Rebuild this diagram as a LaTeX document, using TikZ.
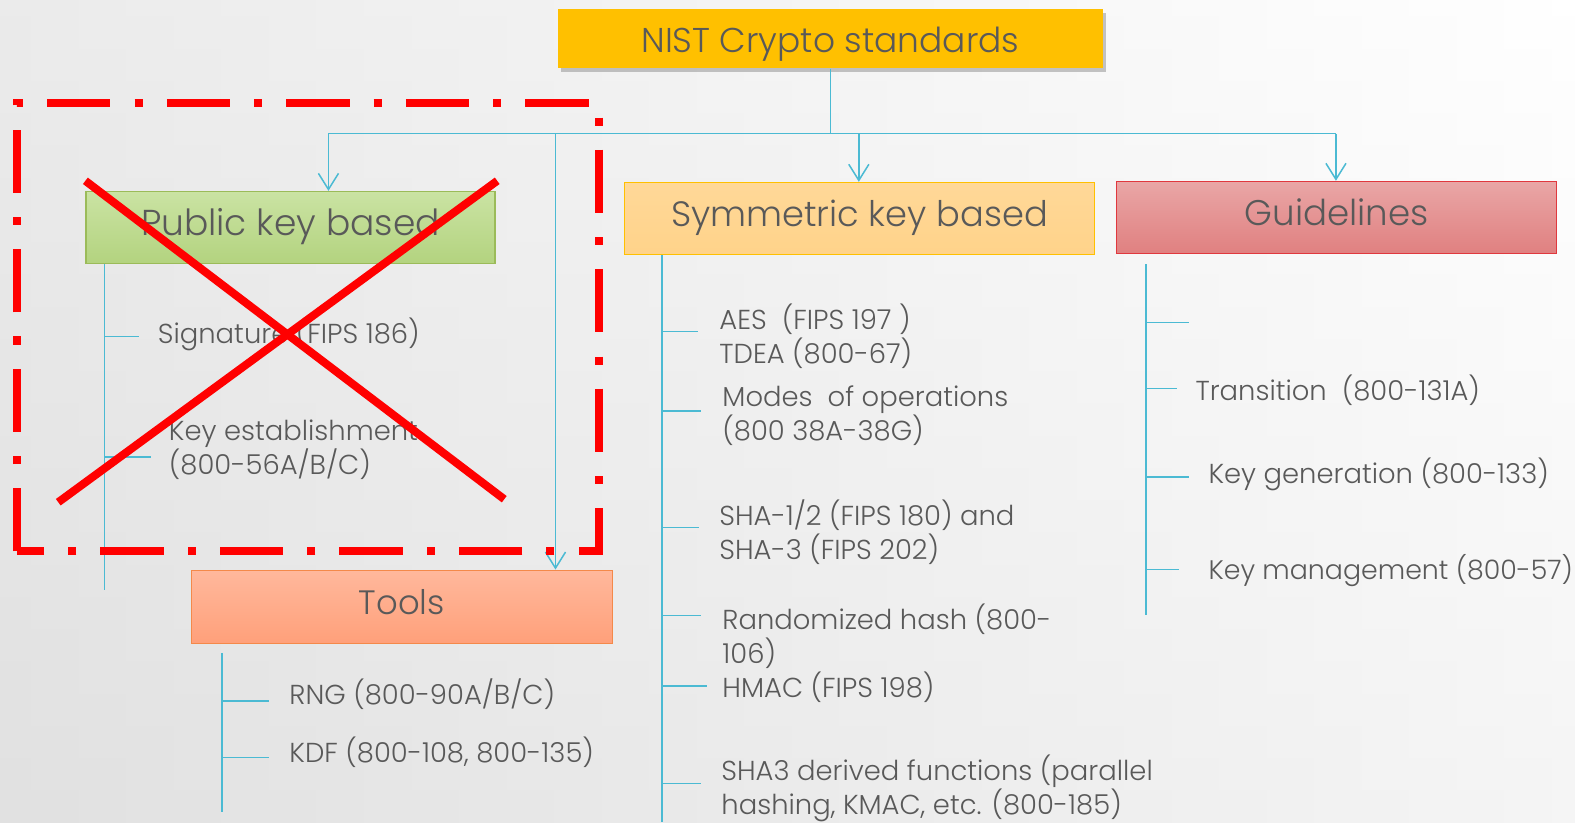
\documentclass[tikz,border=0pt]{standalone}
\usepackage{fontspec}
\IfFontExistsTF{Poppins Light}{\setmainfont{Poppins Light}}{\setmainfont{Poppins}}
\usetikzlibrary{arrows.meta,shadows,calc}
\definecolor{txt}{HTML}{595959}
\definecolor{tree}{HTML}{4BBAD3}
\definecolor{xred}{HTML}{FF0000}
\definecolor{nistF}{HTML}{FFC000}
\definecolor{pkT}{HTML}{CAE3A3}\definecolor{pkB}{HTML}{B3D37F}\definecolor{pkD}{HTML}{9BBB59}
\definecolor{syT}{HTML}{FFD898}\definecolor{syB}{HTML}{FFD38A}\definecolor{syD}{HTML}{FFC000}
\definecolor{gdT}{HTML}{E9A6A6}\definecolor{gdB}{HTML}{E08080}\definecolor{gdD}{HTML}{E0383E}
\definecolor{toT}{HTML}{FFB89C}\definecolor{toB}{HTML}{FFA07A}\definecolor{toD}{HTML}{F4894A}
\tikzset{
  tl/.style={draw=tree, line width=1.5bp},
  arr/.style={tl, -{Straight Barb[length=16bp,width=20bp,line width=1.5bp]}},
  hdr/.style={anchor=north west, inner sep=0pt, text=txt, line width=1.3bp,
    text height=25bp, text depth=9bp},
  hfs/.style={font=\fontsize{#1}{40}\selectfont},
  item/.style={anchor=west, align=left, inner sep=0pt, text=txt,
    font=\fontsize{27.4}{34}\selectfont},
  redline/.style={draw=xred, line width=8bp},
}
\begin{document}
\begin{tikzpicture}[x=1bp,y=-1bp]
\shade[left color=black!13, right color=white] (0,0) rectangle (1568,818.4);
\shade[top color=white, bottom color=black!10, opacity=0.4] (0,0) rectangle (1568,818.4);
\useasboundingbox (0,0) rectangle (1568,818.4);

% header boxes
\node[hdr, hfs=34.4, fill=nistF, minimum width=542bp, minimum height=59bp, text height=28.5bp, text depth=0bp,
  drop shadow={shadow xshift=3bp, shadow yshift=-4bp, opacity=0.45}] (nist) at (555,8) {NIST Crypto standards};
\node[hdr, hfs=36, top color=pkT, bottom color=pkB, draw=pkD, minimum width=407bp, minimum height=72bp] (pk) at (85,190) {Public key based};
\node[hdr, hfs=35.2, top color=syT, bottom color=syB, draw=syD, minimum width=468bp, minimum height=72bp] (sym) at (621,181) {Symmetric key based};
\node[hdr, hfs=35.6, top color=gdT, bottom color=gdB, draw=gdD, minimum width=438bp, minimum height=72bp] (gd) at (1111,180) {Guidelines};
\node[hdr, hfs=33.8, top color=toT, bottom color=toB, draw=toD, minimum width=419bp, minimum height=73bp] (tools) at (190,567) {Tools};

% bus
\coordinate (bus) at (826,133);
\coordinate (busL) at (327,133);
\coordinate (busR) at (1330,133);
\coordinate (busS) at (855,133);
\coordinate (busT) at (553,133);
\draw[tl] (nist.south) -- (nist.south |- bus);
\draw[tl] (busL) -- (busR);
\draw[arr] (busL) -- (busL |- pk.north);
\draw[arr] (busS) -- (busS |- sym.north);
\draw[arr] (busR) -- (busR |- gd.north);
\draw[arr] (busT) -- (busT |- tools.north);

% public key tree
\coordinate (pkv) at (104,587);
\draw[tl] (pk.south -| pkv) -- (pkv);
\coordinate (pk1) at (138,335);
\coordinate (pk2) at (150,455);
\draw[tl] (pk1 -| pkv) -- (pk1);
\draw[tl] (pk2 -| pkv) -- (pk2);
\node[item] (sig) at (157,332.5) {Signature (FIPS 186)};
\node[item] (kest) at (168,447.5) {Key establishment\\(800-56A/B/C)};

% tools tree
\coordinate (tov1) at (221,650);
\coordinate (tov2) at (221,808);
\draw[tl] (tov1) -- (tov2);
\coordinate (to1) at (268,698);
\coordinate (to2) at (268,754);
\draw[tl] (to1 -| tov1) -- (to1);
\draw[tl] (to2 -| tov1) -- (to2);
\node[item] (rng) at (288,691.5) {RNG (800-90A/B/C)};
\node[item] (kdf) at (288,748.5) {KDF (800-108, 800-135)};

% symmetric tree
\coordinate (syv) at (659,818.4);
\draw[tl] (sym.south -| syv) -- (syv);
\coordinate (sy1) at (695,330);
\coordinate (sy2) at (698,409);
\coordinate (sy3) at (696,525);
\coordinate (sy4) at (698,613);
\coordinate (sy5) at (704,683);
\coordinate (sy6) at (698,780);
\foreach \c in {sy1,sy2,sy3,sy4,sy5,sy6} \draw[tl] (\c -| syv) -- (\c);
\node[item] (aes) at (716,334.5) {AES\ \ (FIPS 197 )\\TDEA (800-67)};
\node[item] (modes) at (719,413.5) {Modes\ \ of operations\\(800 38A-38G)};
\node[item] (sha) at (716,529.5) {SHA-1/2 (FIPS 180) and\\SHA-3 (FIPS 202)};
\node[item] (rh) at (719,633) {Randomized hash (800-\\106)};
\node[item] (hmac) at (719,684.5) {HMAC (FIPS 198)};
\node[item] (sha3) at (718,785) {SHA3 derived functions (parallel\\hashing, KMAC, etc. (800-185)};

% guidelines tree
\coordinate (gdv) at (1141,612);
\coordinate (gdtop) at (1141,263);
\draw[tl] (gdtop) -- (gdv);
\coordinate (gd1) at (1184,321);
\coordinate (gd2) at (1172,387);
\coordinate (gd3) at (1184,475);
\coordinate (gd4) at (1174,567);
\foreach \c in {gd1,gd2,gd3,gd4} \draw[tl] (\c -| gdv) -- (\c);
\node[item] (trans) at (1190,388.5) {Transition\ \ (800-131A)};
\node[item] (kgen) at (1203,472.5) {Key generation (800-133)};
\node[item, font=\fontsize{26.8}{34}\selectfont] (kman) at (1203,568.5) {Key management (800-57)};

% red markings
\draw[redline, dash pattern=on 63bp off 24bp on 8bp off 24bp] (17,549) -- (17,103) -- (596,103) -- (596,549) -- cycle;
\coordinate (xa1) at (85,180); \coordinate (xa2) at (502,497);
\coordinate (xb1) at (495,180); \coordinate (xb2) at (58,500);
\draw[redline] (xa1) -- (xa2);
\draw[redline] (xb1) -- (xb2);
\end{tikzpicture}
\end{document}
